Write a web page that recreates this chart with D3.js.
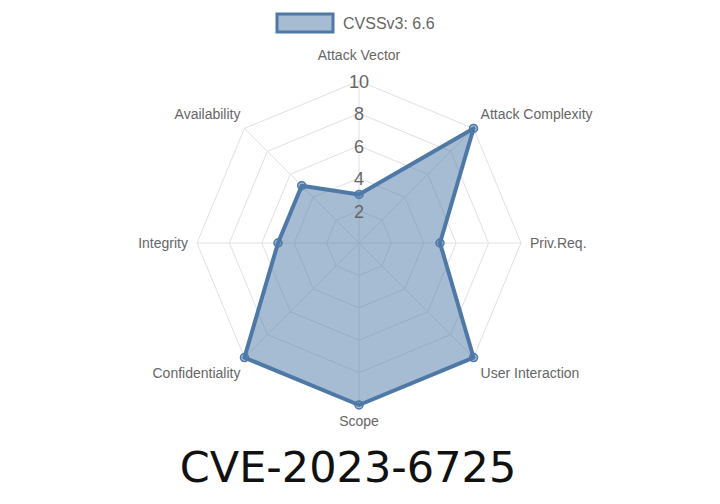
<!DOCTYPE html>
<html><head><meta charset="utf-8">
<script src="https://cdn.jsdelivr.net/npm/d3@7"></script>
<style>body{margin:0;background:#fff}</style>
</head><body>
<svg id="chart" width="720" height="504"></svg>
<script>
const axes = ["Attack Vector", "Attack Complexity", "Priv.Req.", "User Interaction", "Scope", "Confidentiality", "Integrity", "Availability"];
const values = [3, 10, 5, 10, 10, 10, 5, 5];
const ticks = [2, 4, 6, 8, 10];
const seriesName = "CVSSv3: 6.6";
const title = "CVE-2023-6725";

const svg = d3.select("#chart");
const cx = 359, cy = 243;
const r = d3.scaleLinear().domain([0, 10]).range([0, 162]);
const ang = d3.scalePoint().domain(axes).range([0, 2 * Math.PI * (axes.length - 1) / axes.length]);
const pt = (a, v) => [cx + r(v) * Math.sin(ang(a)), cy - r(v) * Math.cos(ang(a))];
const font = "Liberation Sans, Arial, sans-serif";

// grid
ticks.forEach(t => {
    svg.append("polygon")
        .attr("points", axes.map(a => pt(a, t).join(",")).join(" "))
        .attr("fill", "none").attr("stroke", "#e0e0e0").attr("stroke-width", 1);
});
axes.forEach(a => {
    const [x, y] = pt(a, 10);
    svg.append("line").attr("x1", cx).attr("y1", cy).attr("x2", x).attr("y2", y)
        .attr("stroke", "#e0e0e0");
});

// data
svg.append("polygon")
    .attr("points", axes.map((a, i) => pt(a, values[i]).join(",")).join(" "))
    .attr("fill", "rgba(78,121,167,0.5)").attr("stroke", "#4e79a7")
    .attr("stroke-width", 4).attr("stroke-linejoin", "round");
axes.forEach((a, i) => {
    const [x, y] = pt(a, values[i]);
    svg.append("circle").attr("cx", x).attr("cy", y).attr("r", 4)
        .attr("fill", "rgba(78,121,167,0.5)").attr("stroke", "#4e79a7").attr("stroke-width", 1.5);
});

// tick labels
ticks.forEach(t => {
    svg.append("text").attr("x", cx).attr("y", cy - r(t) + 7)
        .attr("text-anchor", "middle").attr("font-family", font)
        .attr("font-size", 18).attr("fill", "#666").text(t);
});

// axis labels
axes.forEach(a => {
    const [x, y] = pt(a, 10);
    const s = Math.sin(ang(a)), c = Math.cos(ang(a));
    let anchor = "middle", dx = 0, dy = 5;
    if (s > 0.1) { anchor = "start"; dx = s > 0.9 ? 9 : 7; }
    if (s < -0.1) { anchor = "end"; dx = s < -0.9 ? -9 : -4; }
    if (c > 0.9) dy = -21;
    else if (c > 0.1) dy = -9;
    else if (c < -0.9) dy = 21;
    else if (c < -0.1) dy = 20;
    svg.append("text").attr("x", x + dx).attr("y", y + dy)
        .attr("text-anchor", anchor)
        .attr("font-family", font).attr("font-size", 14).attr("fill", "#666").text(a);
});

// legend
svg.append("rect").attr("x", 277).attr("y", 14).attr("width", 56).attr("height", 18)
    .attr("fill", "rgba(78,121,167,0.5)").attr("stroke", "#4e79a7").attr("stroke-width", 3);
svg.append("text").attr("x", 343).attr("y", 29).attr("font-family", font)
    .attr("font-size", 16).attr("fill", "#666").text(seriesName);

// title
svg.append("text").attr("x", 348).attr("y", 482).attr("text-anchor", "middle")
    .attr("font-family", "DejaVu Sans, sans-serif").attr("font-size", 43).attr("fill", "#111").text(title);
</script>
</body></html>
